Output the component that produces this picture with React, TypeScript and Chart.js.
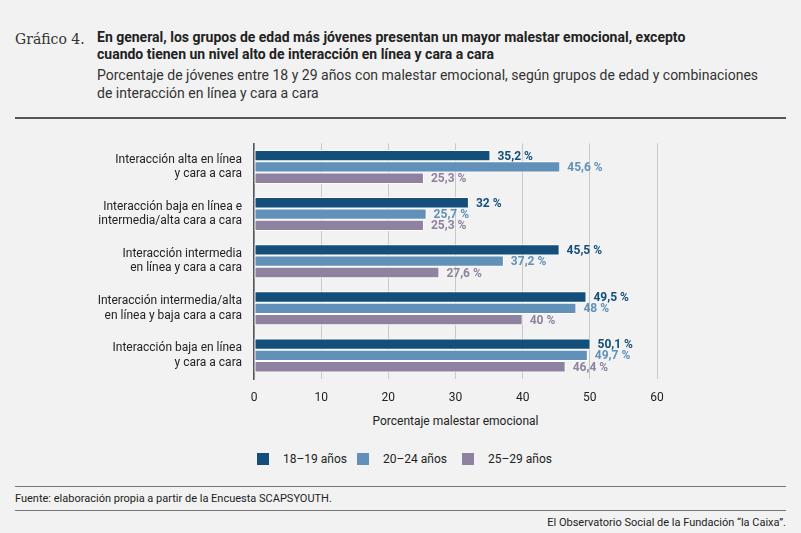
import React, { useEffect, useRef } from "react";
import { Chart, registerables } from "chart.js";
Chart.register(...registerables);

const categories = [
  ["Interacción alta en línea", "y cara a cara"],
  ["Interacción baja en línea e", "intermedia/alta cara a cara"],
  ["Interacción intermedia", "en línea y cara a cara"],
  ["Interacción intermedia/alta", "en línea y baja cara a cara"],
  ["Interacción baja en línea", "y cara a cara"],
];
const s1819 = [35.2, 32, 45.5, 49.5, 50.1];
const s2024 = [45.6, 25.7, 37.2, 48, 49.7];
const s2529 = [25.3, 25.3, 27.6, 40, 46.4];
const seriesNames = ["18-19 años", "20-24 años", "25-29 años"];
const colors = ["#134f7a", "#6190b8", "#8f82a0"];
const FONT = "Roboto, 'Liberation Sans', sans-serif";

const labelPlugin = {
  id: "vlabels",
  afterDatasetsDraw(chart: any) {
    const ctx = chart.ctx;
    ctx.save();
    chart.data.datasets.forEach((ds: any, i: number) => {
      const meta = chart.getDatasetMeta(i);
      meta.data.forEach((bar: any, j: number) => {
        const v = ds.data[j];
        ctx.fillStyle = colors[i];
        ctx.font = `bold 12px ${FONT}`;
        ctx.textBaseline = "middle";
        ctx.textAlign = "left";
        ctx.fillText(String(v).replace(".", ",") + " %", bar.x + 7, bar.y + 1);
      });
    });
    ctx.restore();
  },
};

export default function App() {
  const ref = useRef<HTMLCanvasElement>(null);
  useEffect(() => {
    const chart = new Chart(ref.current!, {
      type: "bar",
      data: {
        labels: categories,
        datasets: [s1819, s2024, s2529].map((d, i) => ({
          label: seriesNames[i],
          data: d,
          backgroundColor: colors[i],
          borderColor: "#ffffff",
          borderWidth: 1,
          borderSkipped: false,
          categoryPercentage: 0.72,
          barPercentage: 1,
        })),
      },
      options: {
        indexAxis: "y",
        animation: false,
        responsive: false,
        layout: { padding: { top: 8, right: 144, left: 0, bottom: 0 } },
        plugins: { legend: { display: false }, tooltip: { enabled: false } },
        scales: {
          x: {
            min: 0,
            max: 60,
            ticks: { stepSize: 10, color: "#222", font: { family: FONT, size: 12 }, padding: 12 },
            grid: { color: "#c8c8c8", drawTicks: false },
            border: { display: false },
            afterFit: (s: any) => { s.height = 30; },
          },
          y: {
            ticks: { color: "#222", font: { family: FONT, size: 12 }, padding: 4 },
            grid: { display: false },
            border: { color: "#555", width: 1.5 },
            afterFit: (s: any) => { s.width = 254; },
          },
        },
      },
      plugins: [labelPlugin],
    });
    return () => chart.destroy();
  }, []);

  const txt: React.CSSProperties = { position: "absolute", fontFamily: FONT, color: "#222", margin: 0, whiteSpace: "nowrap" };
  return (
    <div style={{ position: "fixed", left: 0, top: 0, width: 801, height: 533, background: "#f2f2f2", overflow: "hidden" }}>
      <div style={{ ...txt, left: 15, top: 31, fontFamily: "'DejaVu Serif', 'Liberation Serif', serif", fontSize: 14, color: "#333" }}>Gráfico 4.</div>
      <div style={{ ...txt, left: 97, top: 29, fontSize: 14, fontWeight: "bold", lineHeight: "17px" }}>
        En general, los grupos de edad más jóvenes presentan un mayor malestar emocional, excepto<br />cuando tienen un nivel alto de interacción en línea y cara a cara
      </div>
      <div style={{ ...txt, left: 97, top: 66, fontSize: 14, color: "#333", lineHeight: "18px" }}>
        Porcentaje de jóvenes entre 18 y 29 años con malestar emocional, según grupos de edad y combinaciones<br />de interacción en línea y cara a cara
      </div>
      <div style={{ position: "absolute", left: 15, width: 771, top: 117, height: 2, background: "#555" }} />
      <canvas ref={ref} width={801} height={284} style={{ position: "absolute", left: 0, top: 125, width: 801, height: 284 }} />
      <div style={{ ...txt, left: 254, width: 403, textAlign: "center", top: 414, fontSize: 12 }}>Porcentaje malestar emocional</div>
      {seriesNames.map((n, i) => (
        <div key={n} style={{ ...txt, left: [257, 357, 462][i], top: 452, fontSize: 12, display: "flex", alignItems: "center" }}>
          <span style={{ display: "inline-block", width: 12, height: 12, background: colors[i], marginRight: 14 }} />
          {n.replace("-", "–")}
        </div>
      ))}
      <div style={{ position: "absolute", left: 15, width: 771, top: 486, height: 1, background: "#777" }} />
      <div style={{ ...txt, left: 15, top: 492, fontSize: 11 }}>Fuente: elaboración propia a partir de la Encuesta SCAPSYOUTH.</div>
      <div style={{ position: "absolute", left: 15, width: 771, top: 510, height: 1, background: "#777" }} />
      <div style={{ ...txt, right: 15, top: 516, fontSize: 11 }}>El Observatorio Social de la Fundación “la Caixa”.</div>
    </div>
  );
}
